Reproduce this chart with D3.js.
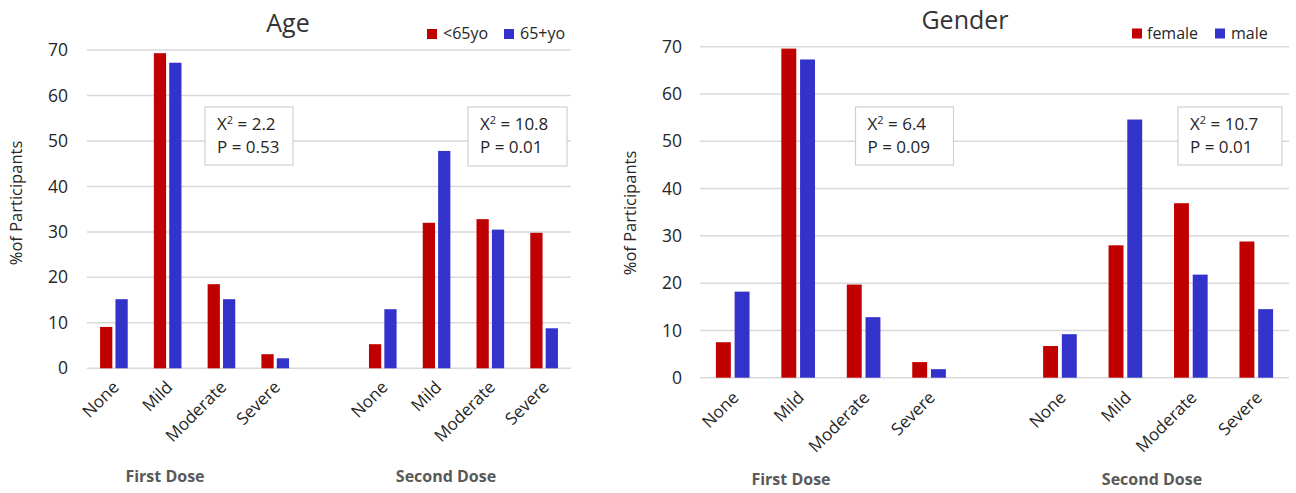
<!DOCTYPE html>
<html>
<head>
<meta charset="utf-8">
<script src="https://cdn.jsdelivr.net/npm/d3@7"></script>
<style>
  html, body { margin: 0; padding: 0; background: #fff; }
  svg { display: block; font-family: "Open Sans", "Noto Sans", sans-serif; }
</style>
</head>
<body>
<svg id="chart" width="1296" height="493"></svg>
<script>
// ---------- data ----------
const categories = ["None", "Mild", "Moderate", "Severe"];
const doses = ["First Dose", "Second Dose"];
const yTicks = [0, 10, 20, 30, 40, 50, 60, 70];

const ageSeries = ["<65yo", "65+yo"];
const ageUnder65 = [9.1, 69.3, 18.5, 3.1, 5.3, 32.0, 32.8, 29.8];
const age65plus = [15.2, 67.2, 15.2, 2.2, 13.0, 47.8, 30.5, 8.8];
const ageChi = ["2.2", "10.8"];
const ageP = ["0.53", "0.01"];

const genderSeries = ["female", "male"];
const female = [7.5, 69.6, 19.7, 3.3, 6.7, 28.0, 36.9, 28.8];
const male = [18.2, 67.3, 12.8, 1.8, 9.2, 54.6, 21.8, 14.5];
const genderChi = ["6.4", "10.7"];
const genderP = ["0.09", "0.01"];

const colors = ["#C00000", "#3333CC"];

// ---------- layout ----------
const panels = [
  {
    title: "Age", titleX: 288, titleY: 32,
    series: ageSeries, values: [ageUnder65, age65plus], chi: ageChi, p: ageP,
    x0: 87, x1: 571, yZero: 368.3, yTop: 50,
    tickRight: 68, yLabelX: 22, yLabelY: 203,
    legend: [{sx: 427, tx: 443}, {sx: 504, tx: 520}], legendY: 29,
    boxes: [{x: 205, y: 107, w: 88, h: 58}, {x: 468, y: 107, w: 99, h: 59}],
    doseX: [165, 446], doseY: 482,
    tickDx: 6, tickDy: 20
  },
  {
    title: "Gender", titleX: 965, titleY: 29,
    series: genderSeries, values: [female, male], chi: genderChi, p: genderP,
    x0: 700, x1: 1289, yZero: 377.7, yTop: 46.7,
    tickRight: 682, yLabelX: 636, yLabelY: 213,
    legend: [{sx: 1132, tx: 1147}, {sx: 1215, tx: 1231}], legendY: 28.5,
    boxes: [{x: 855.5, y: 107, w: 98, h: 58}, {x: 1178, y: 107, w: 104, h: 58}],
    doseX: [791, 1152], doseY: 485,
    tickDx: 7, tickDy: 21
  }
];

const svg = d3.select("#chart");
const textColor = "#262626";

// slots: 4 first dose categories, a blank slot, 4 second dose categories
const slots = [];
doses.forEach((d, di) => {
  categories.forEach(c => slots.push(d + "|" + c));
  if (di === 0) slots.push("gap");
});

panels.forEach(P => {
  const g = svg.append("g");
  const x = d3.scaleBand().domain(slots).range([P.x0, P.x1]).paddingInner(0).paddingOuter(0);
  const y = d3.scaleLinear().domain([0, 70]).range([P.yZero, P.yTop]);
  const step = x.bandwidth();
  const barW = step * 0.228;
  const gapW = step * 0.058;

  // gridlines
  g.append("g").selectAll("line").data(yTicks).join("line")
    .attr("x1", P.x0).attr("x2", P.x1)
    .attr("y1", d => y(d)).attr("y2", d => y(d))
    .attr("stroke", "#D9D9D9").attr("stroke-width", 1.5);

  // y axis tick labels
  const yAxis = d3.axisLeft(y).tickValues(yTicks).tickSize(0).tickPadding(0);
  const ya = g.append("g").attr("transform", `translate(${P.tickRight},0)`).call(yAxis);
  ya.select(".domain").remove();
  ya.selectAll("text").attr("font-size", 17.5).attr("fill", textColor)
    .attr("font-family", "'Open Sans', sans-serif");

  // bars
  const dataIdx = d3.range(8);
  P.values.forEach((vals, si) => {
    g.append("g").selectAll("rect").data(dataIdx).join("rect")
      .attr("x", i => {
        const key = doses[Math.floor(i / 4)] + "|" + categories[i % 4];
        const cx = x(key) + step / 2;
        return si === 0 ? cx - gapW / 2 - barW : cx + gapW / 2;
      })
      .attr("width", barW)
      .attr("y", i => y(vals[i]))
      .attr("height", i => y(0) - y(vals[i]))
      .attr("fill", colors[si]);
  });

  // x tick labels rotated
  const xl = g.append("g");
  dataIdx.forEach(i => {
    const key = doses[Math.floor(i / 4)] + "|" + categories[i % 4];
    const cx = x(key) + step / 2;
    xl.append("text")
      .attr("transform", `translate(${cx + P.tickDx},${P.yZero + P.tickDy}) rotate(-45)`)
      .attr("text-anchor", "end")
      .attr("font-size", 17).attr("fill", textColor)
      .text(categories[i % 4]);
  });

  // dose labels
  doses.forEach((d, di) => {
    g.append("text").attr("x", P.doseX[di]).attr("y", P.doseY)
      .attr("text-anchor", "middle").attr("font-size", 16).attr("font-weight", "bold")
      .attr("fill", "#595959").text(d);
  });

  // y label
  g.append("text")
    .attr("transform", `translate(${P.yLabelX},${P.yLabelY}) rotate(-90)`)
    .attr("text-anchor", "middle").attr("font-size", 16.5).attr("fill", textColor)
    .text("%of Participants");

  // title
  g.append("text").attr("x", P.titleX).attr("y", P.titleY)
    .attr("text-anchor", "middle").attr("font-size", 25).attr("fill", "#333")
    .text(P.title);

  // legend
  P.series.forEach((s, si) => {
    g.append("rect").attr("x", P.legend[si].sx).attr("y", P.legendY)
      .attr("width", 10).attr("height", 10).attr("fill", colors[si]);
    g.append("text").attr("x", P.legend[si].tx).attr("y", P.legendY + 10)
      .attr("font-size", 16).attr("fill", textColor).text(s);
  });

  // stat boxes
  P.boxes.forEach((b, bi) => {
    g.append("rect").attr("x", b.x).attr("y", b.y).attr("width", b.w).attr("height", b.h)
      .attr("fill", "#fff").attr("stroke", "#D0D0D0").attr("stroke-width", 1.2);
    const t1 = g.append("text").attr("x", b.x + 12).attr("y", b.y + 23)
      .attr("font-size", 17).attr("fill", textColor);
    t1.append("tspan").text("X");
    t1.append("tspan").attr("font-size", 11).attr("dy", -6).text("2");
    t1.append("tspan").attr("dy", 6).text(" = " + P.chi[bi]);
    g.append("text").attr("x", b.x + 12).attr("y", b.y + 46)
      .attr("font-size", 17).attr("fill", textColor)
      .text("P = " + P.p[bi]);
  });
});
</script>
</body>
</html>
